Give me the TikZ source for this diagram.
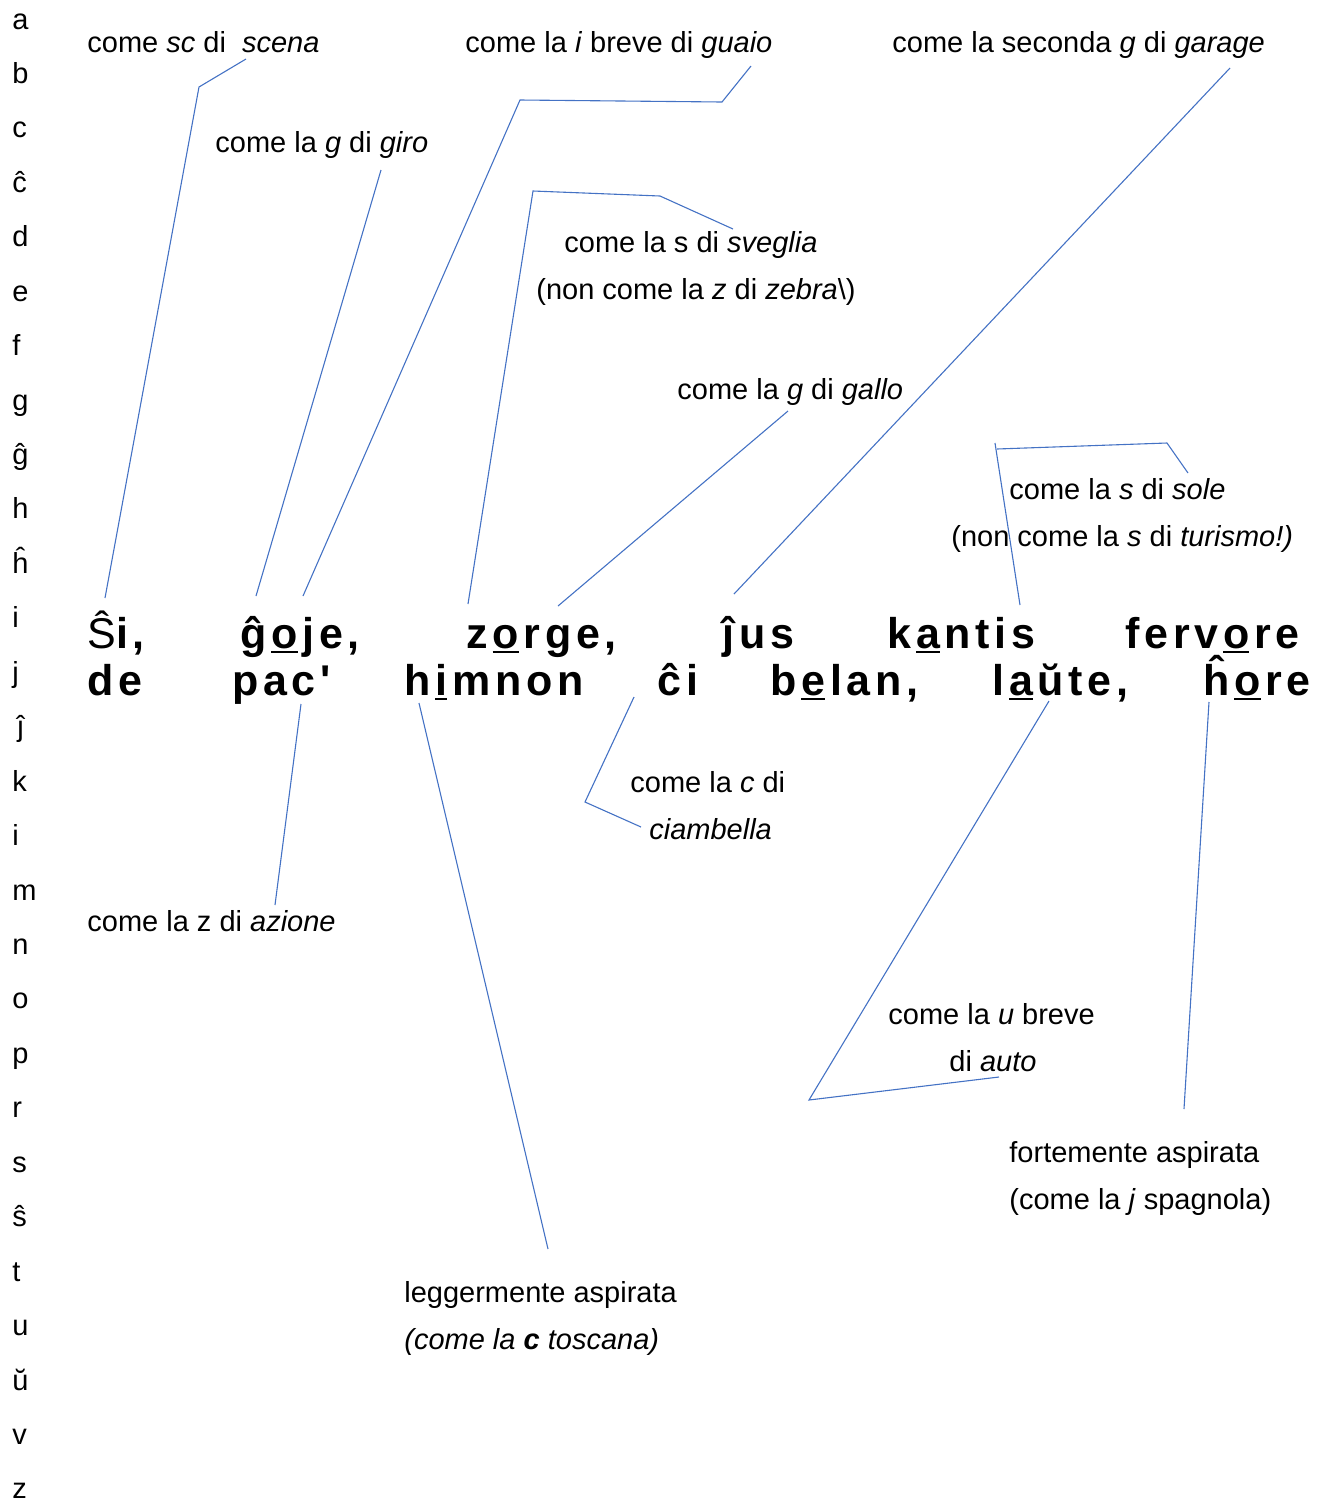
\documentclass[tikz,border=0pt]{standalone}
\usepackage{fontspec}
\setmainfont{Liberation Sans}
\newfontfamily\wordfont[LetterSpace=11,Ligatures=TeXOff]{Liberation Sans}
\definecolor{linkblue}{RGB}{68,114,196}
\newcommand\ulc[1]{\kern0.11em\setbox0\hbox{#1}\rlap{\raisebox{-2.6pt}{\rule{\wd0}{1.3pt}}}#1}
\begin{document}
\begin{tikzpicture}[x=0.5pt,y=-0.5pt,
  lbl/.style={anchor=base west,inner sep=0pt,font=\fontsize{14.5}{17}\selectfont},
  wrd/.style={anchor=base west,inner sep=0pt,font=\wordfont\fontsize{21.5}{25}\selectfont\bfseries},
  alpha/.style={anchor=base west,inner sep=0pt,font=\fontsize{14.5}{17}\selectfont},
  link/.style={draw=linkblue,line width=0.55pt,line join=miter}]
\useasboundingbox (0,0) rectangle (1323,1506);
% alphabet column
\foreach \l [count=\i from 0] in {a,b,c,ĉ,d,e,f,g,ĝ,h,ĥ,i,j,ĵ,k,i,m,n,o,p,r,s,ŝ,t,u,ŭ,v,z}{
  \ifnum\i=13
    \node[alpha] (al\i) at (17,29+54.44*\i) {\l};
  \else
    \node[alpha] (al\i) at (12,29+54.44*\i) {\l};
  \fi
}
% main words, line 1
\node[wrd] (w1) at (87,648) {{\mdseries Ŝ}i,};
\node[wrd] (w2) at (240,648) {ĝ\ulc{o}je,};
\node[wrd] (w3) at (466,648) {z\ulc{o}rge,};
\node[wrd] (w4) at (722,648) {ĵus};
\node[wrd] (w5) at (887,648) {k\ulc{a}ntis};
\node[wrd] (w6) at (1125,648) {ferv\ulc{o}re};
% line 2
\node[wrd] (v1) at (87,695) {de};
\node[wrd] (v2) at (232,695) {pac'};
\node[wrd] (v3) at (404,695) {h\ulc{i}mnon};
\node[wrd] (v4) at (657,695) {ĉi};
\node[wrd] (v5) at (770,695) {b\ulc{e}lan,};
\node[wrd] (v6) at (992,695) {l\ulc{a}ŭte,};
\node[wrd] (v7) at (1203,695) {ĥ\ulc{o}re};
% labels
\node[lbl] (t1) at (87,52) {come \textit{sc} di\ \ \textit{scena}};
\node[lbl] (t2) at (465,52) {come la \textit{i} breve di \textit{guaio}};
\node[lbl] (t3) at (892,52) {come la seconda \textit{g} di \textit{garage}};
\node[lbl] (t4) at (215,152) {come la \textit{g} di \textit{giro}};
\node[lbl] (t5a) at (564,252) {come la s di \textit{sveglia}};
\node[lbl] (t5b) at (536,299) {(non come la \textit{z} di \textit{zebra}\textbackslash)};
\node[lbl] (t6) at (677,399) {come la \textit{g} di \textit{gallo}};
\node[lbl] (t7a) at (1009,499) {come la \textit{s} di \textit{sole}};
\node[lbl] (t7b) at (951,546) {(non come la \textit{s} di \textit{turismo!)}};
\node[lbl] (t8a) at (630,792) {come la \textit{c} di};
\node[lbl] (t8b) at (649,839) {\textit{ciambella}};
\node[lbl] (t9) at (87,931) {come la z di \textit{azione}};
\node[lbl] (t10a) at (888,1024) {come la \textit{u} breve};
\node[lbl] (t10b) at (949,1071) {di \textit{auto}};
\node[lbl] (t11a) at (1009,1162) {fortemente aspirata};
\node[lbl] (t11b) at (1009,1209) {(come la \textit{j} spagnola)};
\node[lbl] (t12a) at (404,1302) {leggermente aspirata};
\node[lbl] (t12b) at (404,1349) {\textit{(come la \textbf{c} toscana)}};
% connector points
\coordinate (a1) at (105,598); \coordinate (a2) at (199,87); \coordinate (a3) at (246,59);
\coordinate (b1) at (256,596); \coordinate (b2) at (381,170);
\coordinate (c1) at (303,596); \coordinate (c2) at (520,100); \coordinate (c3) at (722,102); \coordinate (c4) at (751,66);
\coordinate (d1) at (468,604); \coordinate (d2) at (533,191); \coordinate (d3) at (660,196); \coordinate (d4) at (733,229);
\coordinate (e1) at (558,606); \coordinate (e2) at (788,411);
\coordinate (f1) at (734,594); \coordinate (f2) at (1230,68);
\coordinate (g1) at (1020,605); \coordinate (g2) at (995,443); \coordinate (g3) at (997,449); \coordinate (g4) at (1167,443); \coordinate (g5) at (1188,473);
\coordinate (h1) at (301,704); \coordinate (h2) at (275,905);
\coordinate (i1) at (419,703); \coordinate (i2) at (548,1249);
\coordinate (j1) at (634,697); \coordinate (j2) at (585,802); \coordinate (j3) at (641,827);
\coordinate (k1) at (1049,701); \coordinate (k2) at (809,1100); \coordinate (k3) at (999,1077);
\coordinate (l1) at (1209,702); \coordinate (l2) at (1184,1109);
% connectors
\draw[link] (a1) -- (a2) -- (a3);
\draw[link] (b1) -- (b2);
\draw[link] (c1) -- (c2) -- (c3) -- (c4);
\draw[link] (d1) -- (d2) -- (d3) -- (d4);
\draw[link] (e1) -- (e2);
\draw[link] (f1) -- (f2);
\draw[link] (g1) -- (g2);
\draw[link] (g3) -- (g4) -- (g5);
\draw[link] (h1) -- (h2);
\draw[link] (i1) -- (i2);
\draw[link] (j1) -- (j2) -- (j3);
\draw[link] (k1) -- (k2) -- (k3);
\draw[link] (l1) -- (l2);
\end{tikzpicture}
\end{document}
